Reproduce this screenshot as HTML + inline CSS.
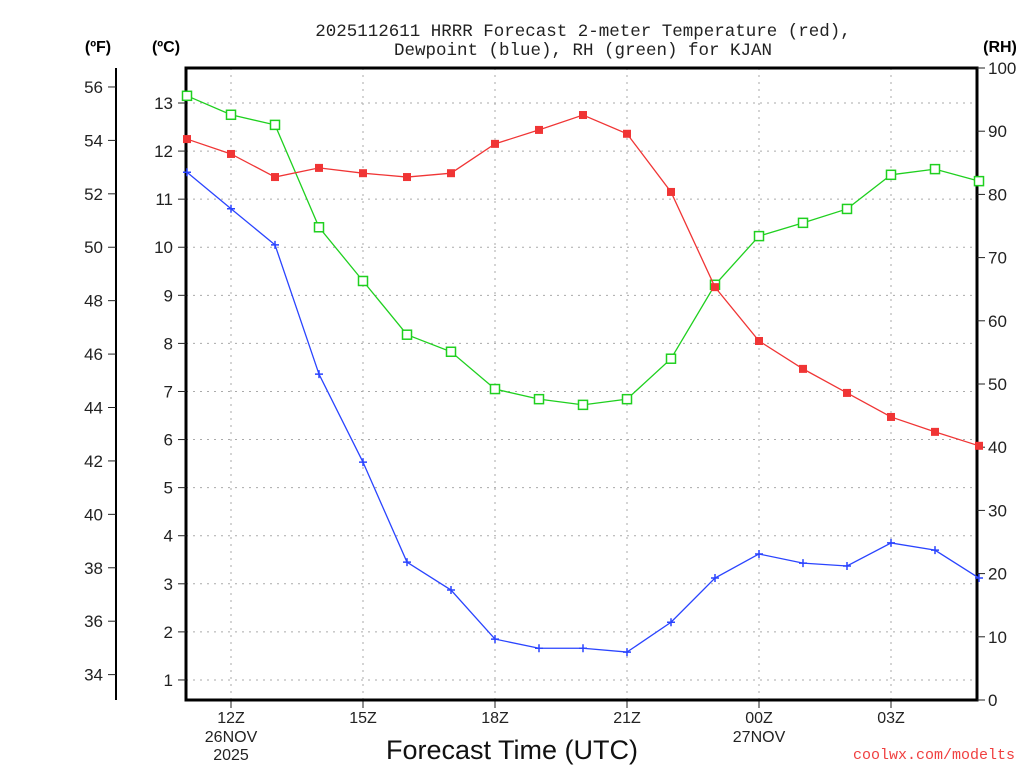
<!DOCTYPE html>
<html><head><meta charset="utf-8"><style>
body{margin:0;background:#fff;}
#c text{font-family:"Liberation Sans",sans-serif;fill:#222;}
</style></head><body>
<svg id="c" width="1024" height="768" xmlns="http://www.w3.org/2000/svg"></svg>
<script>
const hours=[11,12,13,14,15,16,17,18,19,20,21,22,23,24,25,26,27,28,29];
const tempC=[12.25,11.94,11.46,11.65,11.54,11.46,11.54,12.15,12.44,12.75,12.36,11.15,9.17,8.05,7.47,6.97,6.47,6.16,5.87];
const dewC=[11.56,10.80,10.05,7.36,5.53,3.45,2.87,1.85,1.66,1.66,1.58,2.20,3.12,3.62,3.43,3.37,3.85,3.70,3.12];
const rh=[95.6,92.6,91.0,74.8,66.3,57.8,55.1,49.2,47.6,46.7,47.6,54.0,65.7,73.4,75.5,77.7,83.1,84.0,82.1];
const cTicks=[1,2,3,4,5,6,7,8,9,10,11,12,13];
const fTicks=[34,36,38,40,42,44,46,48,50,52,54,56];
const rhTicks=[0,10,20,30,40,50,60,70,80,90,100];
const xTickHours=[12,15,18,21,24,27];
const xTickLabels=["12Z","15Z","18Z","21Z","00Z","03Z"];

const L=186,R=977,T=68,B=700;
const x=h=>187+(h-11)*44;
const yC=c=>103+(13-c)*48.08;
const yF=f=>yC((f-32)/1.8);
const yRH=r=>B-r*(B-T)/100;
const svg=document.getElementById('c');
const NS='http://www.w3.org/2000/svg';
function el(t,a,txt){const e=document.createElementNS(NS,t);for(const k in a)e.setAttribute(k,a[k]);if(txt!==undefined)e.textContent=txt;svg.appendChild(e);return e;}

cTicks.forEach(c=>{const g=el('line',{x1:L,x2:R,y1:yC(c),y2:yC(c),stroke:'#aaa','stroke-dasharray':'2,5'});

});
xTickHours.forEach((h,i)=>{const g=el('line',{x1:x(h),x2:x(h),y1:T,y2:B,stroke:'#aaa','stroke-dasharray':'2,5'});


const t=el('line',{x1:x(h),x2:x(h),y1:B,y2:B+8,stroke:'#222'});


const lb=el('text',{x:x(h),y:B+23,'text-anchor':'middle','font-size':16},xTickLabels[i]);

});
[[x(12),["26NOV","2025"]],[x(24),["27NOV"]]].forEach(([px,ls])=>ls.forEach((s,j)=>{const t=el('text',{x:px,y:B+42+j*18,'text-anchor':'middle','font-size':16},s);

}));

const fr=el('rect',{x:L,y:T,width:R-L,height:B-T,fill:'none',stroke:'#000','stroke-width':3});



cTicks.forEach(c=>{el('line',{x1:L-8,x2:L,y1:yC(c),y2:yC(c),stroke:'#222'});
const t=el('text',{x:L-13,y:yC(c)+6,'text-anchor':'end','font-size':17},c);

});
const fa=el('line',{x1:116,x2:116,y1:T,y2:B,stroke:'#000','stroke-width':2});


fTicks.forEach(f=>{el('line',{x1:108,x2:116,y1:yF(f),y2:yF(f),stroke:'#222'});
const t=el('text',{x:103,y:yF(f)+6,'text-anchor':'end','font-size':17},f);

});
rhTicks.forEach(r=>{el('line',{x1:R,x2:R+8,y1:yRH(r),y2:yRH(r),stroke:'#222'});
const t=el('text',{x:988,y:yRH(r)+6,'font-size':17},r);

});

function series(vals,yf,color,name,marker){
 const p=el('polyline',{points:vals.map((v,i)=>x(hours[i])+','+yf(v)).join(' '),fill:'none',stroke:color,'stroke-width':1.3});
 
 
 vals.forEach((v,i)=>{const cx=x(hours[i]),cy=yf(v);let m;
  if(marker==='sq')m=el('rect',{x:cx-4,y:cy-4,width:8,height:8,fill:color});
  else if(marker==='open')m=el('rect',{x:cx-4.5,y:cy-4.5,width:9,height:9,fill:'#fff',stroke:color,'stroke-width':1.5});
  else m=el('path',{d:`M${cx-4},${cy}H${cx+4}M${cx},${cy-4}V${cy+4}`,stroke:color,'stroke-width':1.5});
  
  });
}
series(rh,yRH,'#1fd01f','rh','open');
series(tempC,yC,'#f03535','temperature','sq');
series(dewC,yC,'#2a44ff','dewpoint','plus');
</script>
<svg style="position:absolute;left:0;top:0" width="1024" height="768" xmlns="http://www.w3.org/2000/svg">
<text x="583" y="36" text-anchor="middle" style="font-size:17.5px;font-family:'Liberation Mono',monospace;fill:#222">2025112611 HRRR Forecast 2-meter Temperature (red),</text>
<text x="583" y="55" text-anchor="middle" style="font-size:17.5px;font-family:'Liberation Mono',monospace;fill:#222">Dewpoint (blue), RH (green) for KJAN</text>
<text x="98" y="52" text-anchor="middle" style="font-size:16px;font-weight:bold;font-family:'Liberation Sans',sans-serif;fill:#000">(ºF)</text>
<text x="166" y="52" text-anchor="middle" style="font-size:16px;font-weight:bold;font-family:'Liberation Sans',sans-serif;fill:#000">(ºC)</text>
<text x="1000" y="52" text-anchor="middle" style="font-size:16px;font-weight:bold;font-family:'Liberation Sans',sans-serif;fill:#000">(RH)</text>
<text x="512" y="759" text-anchor="middle" style="font-size:27px;font-family:'Liberation Sans',sans-serif;fill:#111">Forecast Time (UTC)</text>
<text x="1015" y="759" text-anchor="end" style="font-size:15px;font-family:'Liberation Mono',monospace;fill:#f04040">coolwx.com/modelts</text>
</svg>
</body></html>
